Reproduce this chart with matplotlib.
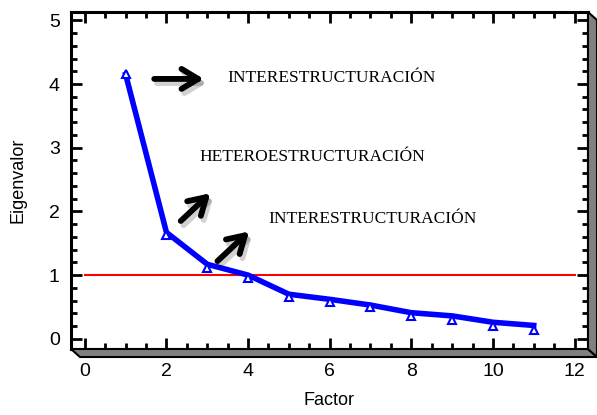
import numpy as np
import matplotlib.pyplot as plt
import matplotlib.patheffects as pe
from matplotlib.patches import Polygon
from matplotlib.ticker import MultipleLocator

factor = [1, 2, 3, 4, 5, 6, 7, 8, 9, 10, 11]
eigen_line = [4.15, 1.67, 1.17, 1.0, 0.70, 0.62, 0.53, 0.41, 0.36, 0.26, 0.21]
eigen_pts = [4.15, 1.63, 1.11, 0.96, 0.66, 0.58, 0.50, 0.36, 0.30, 0.20, 0.14]
cutoff = 1.0

labels = ['INTERESTRUCTURACIÓN', 'HETEROESTRUCTURACIÓN', 'INTERESTRUCTURACIÓN']
label_pos = [(3.5, 4.1), (2.8, 2.85), (4.5, 1.88)]
arrows = [((1.7, 4.08), (2.95, 4.08)), ((2.35, 1.85), (3.1, 2.3)), ((3.25, 1.22), (4.05, 1.7))]

plt.rcParams['font.family'] = ['Liberation Sans', 'DejaVu Sans']

fig = plt.figure(figsize=(5.97, 4.15), dpi=100)
ax = fig.add_axes([0.1189, 0.159, 0.866, 0.812])

# 3D-like shadow below and right of the frame
x0, x1 = 0.1189, 0.1189 + 0.866
y0, y1 = 0.159, 0.971
dx, dy = 9 / 597, 8 / 415
fig.patches.append(Polygon([(x0, y0), (x1, y0), (x1 + dx, y0 - dy), (x0 + dx, y0 - dy)],
                           closed=True, transform=fig.transFigure, facecolor='#808080',
                           edgecolor='black', lw=1.5))
fig.patches.append(Polygon([(x1, y0), (x1, y1), (x1 + dx, y1 - dy), (x1 + dx, y0 - dy)],
                           closed=True, transform=fig.transFigure, facecolor='#808080',
                           edgecolor='black', lw=1.5))

ax.plot([0, 12], [cutoff, cutoff], color='red', lw=1.5, zorder=2)
ax.plot(factor, eigen_line, color='#0000ff', lw=4, zorder=3, solid_joinstyle='miter')
ax.plot(factor, eigen_pts, linestyle='none', marker='^', ms=6, mfc='white',
        mec='#0000ff', mew=1.5, zorder=4)

shadow = [pe.SimpleLineShadow(offset=(2, -3), alpha=0.18, shadow_color='black'), pe.Normal()]
for (start, end) in arrows:
    ax.annotate('', xy=end, xytext=start,
                arrowprops=dict(arrowstyle='->,head_length=0.6,head_width=0.36',
                                mutation_scale=20, color='black', lw=4.2,
                                shrinkA=0, shrinkB=1, joinstyle='round',
                                capstyle='round', path_effects=shadow))
for text, (tx, ty) in zip(labels, label_pos):
    ax.text(tx, ty, text, family='Liberation Serif', fontsize=12.5, va='center', ha='left')

ax.set_xlim(-0.34, 12.33)
ax.set_ylim(-0.16, 5.13)
ax.xaxis.set_major_locator(MultipleLocator(2))
ax.xaxis.set_minor_locator(MultipleLocator(0.5))
ax.yaxis.set_major_locator(MultipleLocator(1))
ax.yaxis.set_minor_locator(MultipleLocator(0.2))
ax.tick_params(which='both', direction='in', top=True, right=True, width=2, labelsize=14)
ax.tick_params(axis='x', pad=10)
ax.tick_params(axis='y', pad=8)
ax.tick_params(which='major', length=8)
ax.tick_params(which='minor', length=4)
for s in ax.spines.values():
    s.set_linewidth(2.2)

ax.set_xlabel('Factor', fontsize=13, labelpad=9)
ax.set_ylabel('Eigenvalor', fontsize=13, labelpad=16)

fig.savefig('out.png', dpi=100)
